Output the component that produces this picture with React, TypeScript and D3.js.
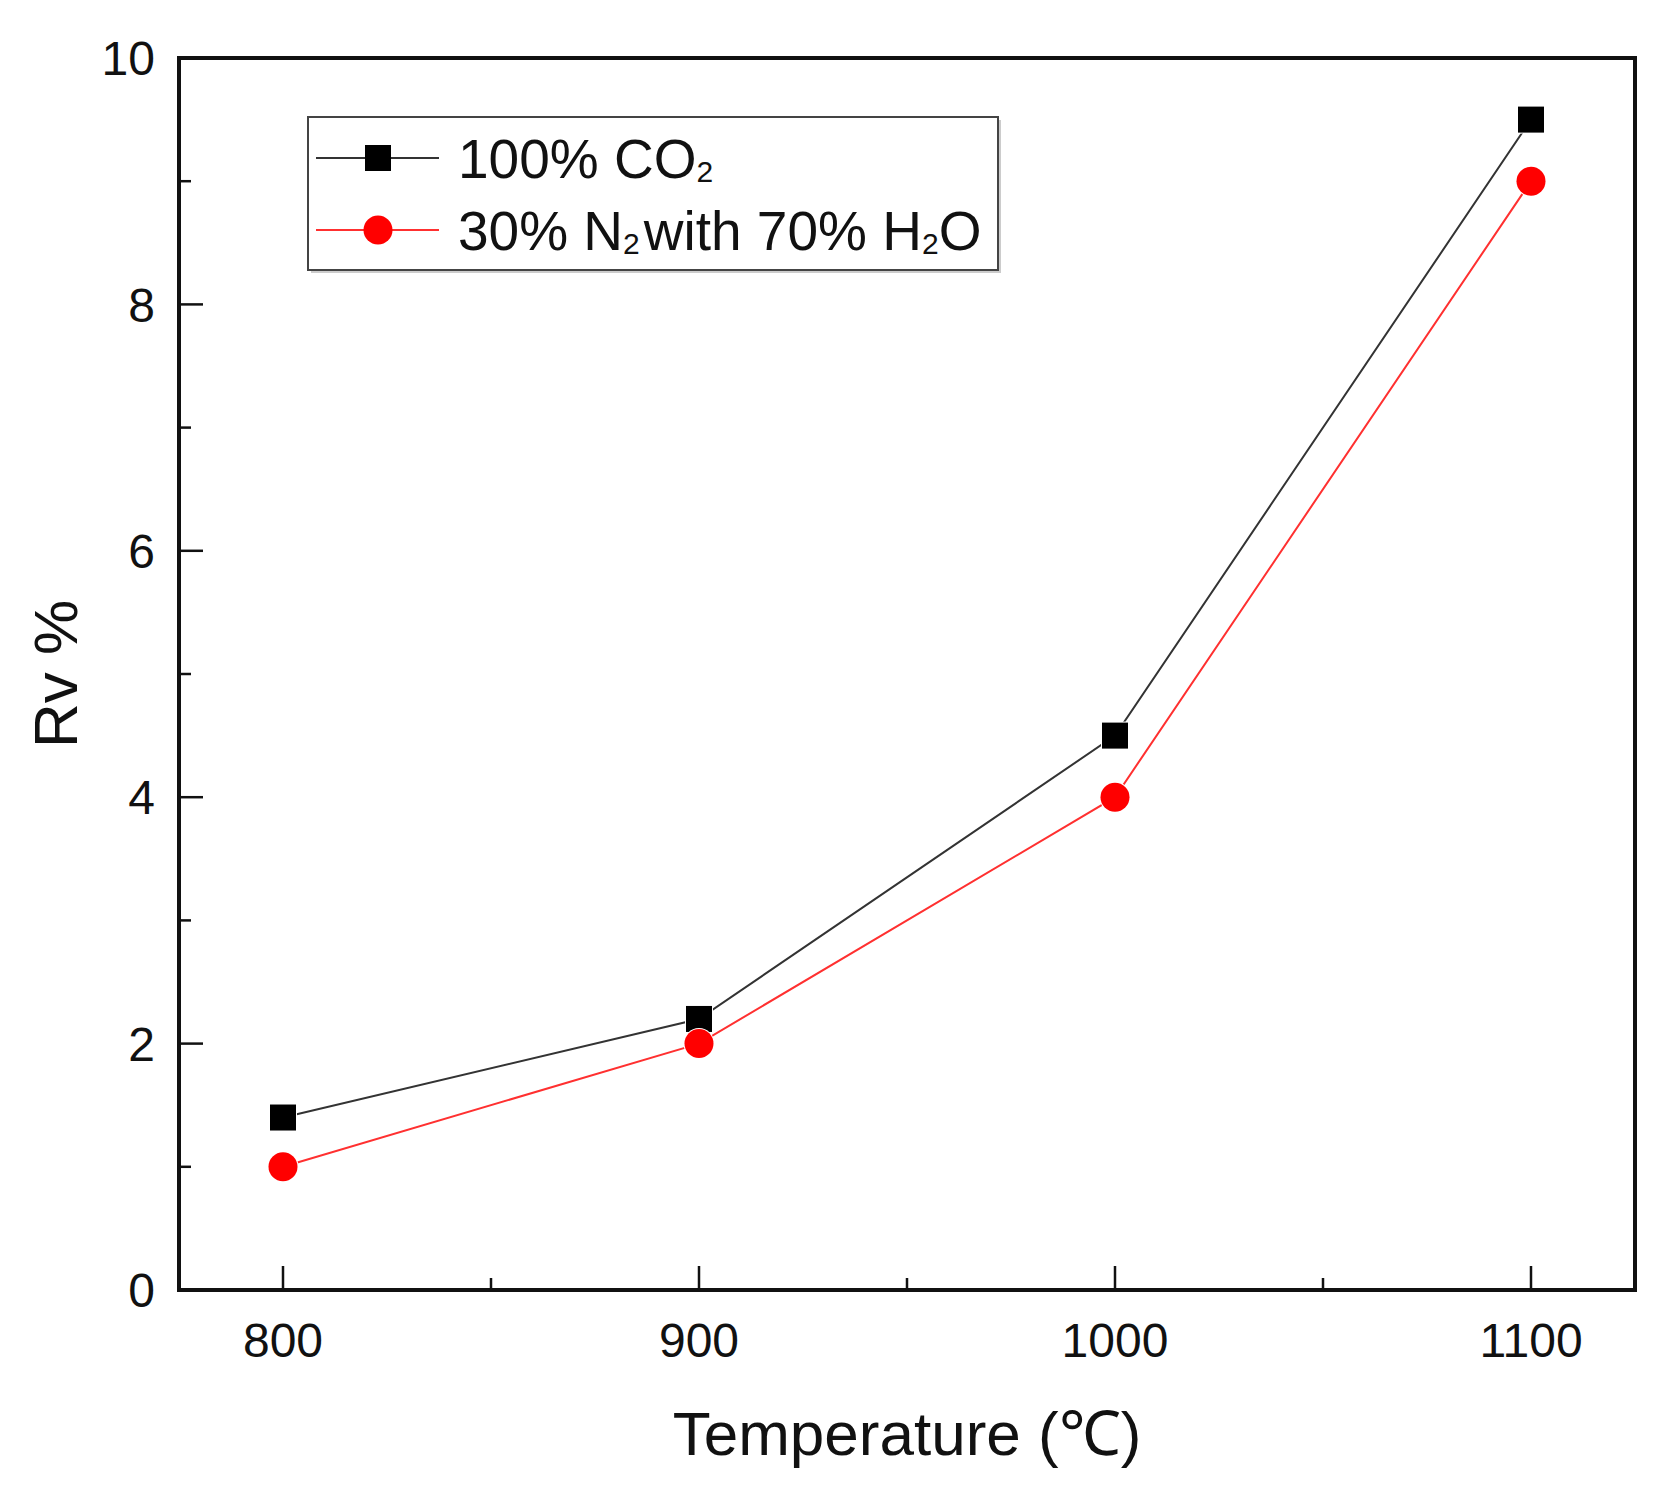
import React from 'react';
import * as d3 from 'd3';

// data
const temperatures = [800, 900, 1000, 1100];
const co2Values = [1.4, 2.2, 4.5, 9.5];
const n2h2oValues = [1.0, 2.0, 4.0, 9.0];
const xMajorTicks = [800, 900, 1000, 1100];
const xMinorTicks = [850, 950, 1050];
const yMajorTicks = [0, 2, 4, 6, 8, 10];
const yMinorTicks = [1, 3, 5, 7, 9];

const W = 1674;
const H = 1503;
const margin = { top: 58, right: 39, bottom: 213, left: 179 };
const FONT = '"Liberation Sans", Arial, sans-serif';

const App = () => {
  const x = d3
    .scaleLinear()
    .domain([775, 1125])
    .range([margin.left, W - margin.right]);
  const y = d3
    .scaleLinear()
    .domain([0, 10])
    .range([H - margin.bottom, margin.top]);

  const line = d3
    .line<[number, number]>()
    .x((d) => x(d[0]))
    .y((d) => y(d[1]));

  const co2 = temperatures.map((t, i) => [t, co2Values[i]] as [number, number]);
  const n2 = temperatures.map((t, i) => [t, n2h2oValues[i]] as [number, number]);

  const x0 = margin.left;
  const x1 = W - margin.right;
  const y0 = H - margin.bottom;
  const y1 = margin.top;
  const sq = 26;
  const r = 14.5;

  // legend
  const lg = { x: 308, y: 117, w: 690, h: 153 };
  const rows = [lg.y + 41, lg.y + 113];

  return (
    <svg
      width={W}
      height={H}
      style={{ position: 'absolute', left: 0, top: 0, background: '#fff' }}
      fontFamily={FONT}
    >
      <rect width={W} height={H} fill="#fff" />

      {/* series lines */}
      <path d={line(co2) || ''} fill="none" stroke="#333" strokeWidth={2} />
      <path d={line(n2) || ''} fill="none" stroke="#ff3030" strokeWidth={2} />

      {/* markers */}
      {co2.map((d, i) => (
        <rect
          key={'s' + i}
          x={x(d[0]) - sq / 2}
          y={y(d[1]) - sq / 2}
          width={sq}
          height={sq}
          fill="#000"
          stroke="#fff"
          strokeWidth={2}
          paintOrder="stroke"
        />
      ))}
      {n2.map((d, i) => (
        <circle
          key={'c' + i}
          cx={x(d[0])}
          cy={y(d[1])}
          r={r}
          fill="#ff0000"
          stroke="#fff"
          strokeWidth={2}
          paintOrder="stroke"
        />
      ))}

      {/* frame */}
      <rect
        x={x0}
        y={y1}
        width={x1 - x0}
        height={y0 - y1}
        fill="none"
        stroke="#111"
        strokeWidth={4}
      />

      {/* x ticks (inward) */}
      {xMajorTicks.map((t) => (
        <g key={'xt' + t}>
          <line x1={x(t)} x2={x(t)} y1={y0} y2={y0 - 24} stroke="#111" strokeWidth={2.5} />
          <text
            x={x(t)}
            y={1357}
            textAnchor="middle"
            fontSize={48}
            fill="#111"
          >
            {t}
          </text>
        </g>
      ))}
      {xMinorTicks.map((t) => (
        <line key={'xm' + t} x1={x(t)} x2={x(t)} y1={y0} y2={y0 - 12} stroke="#111" strokeWidth={2.5} />
      ))}

      {/* y ticks (inward) */}
      {yMajorTicks.map((t) => (
        <g key={'yt' + t}>
          <line x1={x0} x2={x0 + 24} y1={y(t)} y2={y(t)} stroke="#111" strokeWidth={2.5} />
          <text
            x={155}
            y={y(t)}
            dy="0.36em"
            textAnchor="end"
            fontSize={48}
            fill="#111"
          >
            {t}
          </text>
        </g>
      ))}
      {yMinorTicks.map((t) => (
        <line key={'ym' + t} x1={x0} x2={x0 + 12} y1={y(t)} y2={y(t)} stroke="#111" strokeWidth={2.5} />
      ))}

      {/* axis titles */}
      <text x={(x0 + x1) / 2} y={1455} textAnchor="middle" fontSize={62} fill="#111">
        Temperature (℃)
      </text>
      <text
        transform={`translate(77,${(y0 + y1) / 2}) rotate(-90)`}
        textAnchor="middle"
        fontSize={62}
        fill="#111"
      >
        Rv %
      </text>

      {/* legend */}
      <rect x={lg.x + 3} y={lg.y + 3} width={lg.w} height={lg.h} fill="#ccc" />
      <rect x={lg.x} y={lg.y} width={lg.w} height={lg.h} fill="#fff" stroke="#444" strokeWidth={2} />
      <line x1={316} x2={439} y1={rows[0]} y2={rows[0]} stroke="#333" strokeWidth={2} />
      <rect x={378 - sq / 2} y={rows[0] - sq / 2} width={sq} height={sq} fill="#000" />
      <text x={458} y={rows[0]} dy="0.36em" fontSize={55} fill="#111">
        100% CO<tspan fontSize={30} dy={4}>2</tspan>
      </text>
      <line x1={316} x2={439} y1={rows[1]} y2={rows[1]} stroke="#ff3030" strokeWidth={2} />
      <circle cx={378} cy={rows[1]} r={r} fill="#ff0000" />
      <text x={458} y={rows[1]} dy="0.36em" fontSize={55} fill="#111">
        30% N<tspan fontSize={30} dy={4}>2</tspan>
        <tspan dx={4} dy={-4} fontSize={55}>with 70% H</tspan>
        <tspan fontSize={30} dy={4}>2</tspan>
        <tspan dy={-4} fontSize={55}>O</tspan>
      </text>
    </svg>
  );
};

export default App;
